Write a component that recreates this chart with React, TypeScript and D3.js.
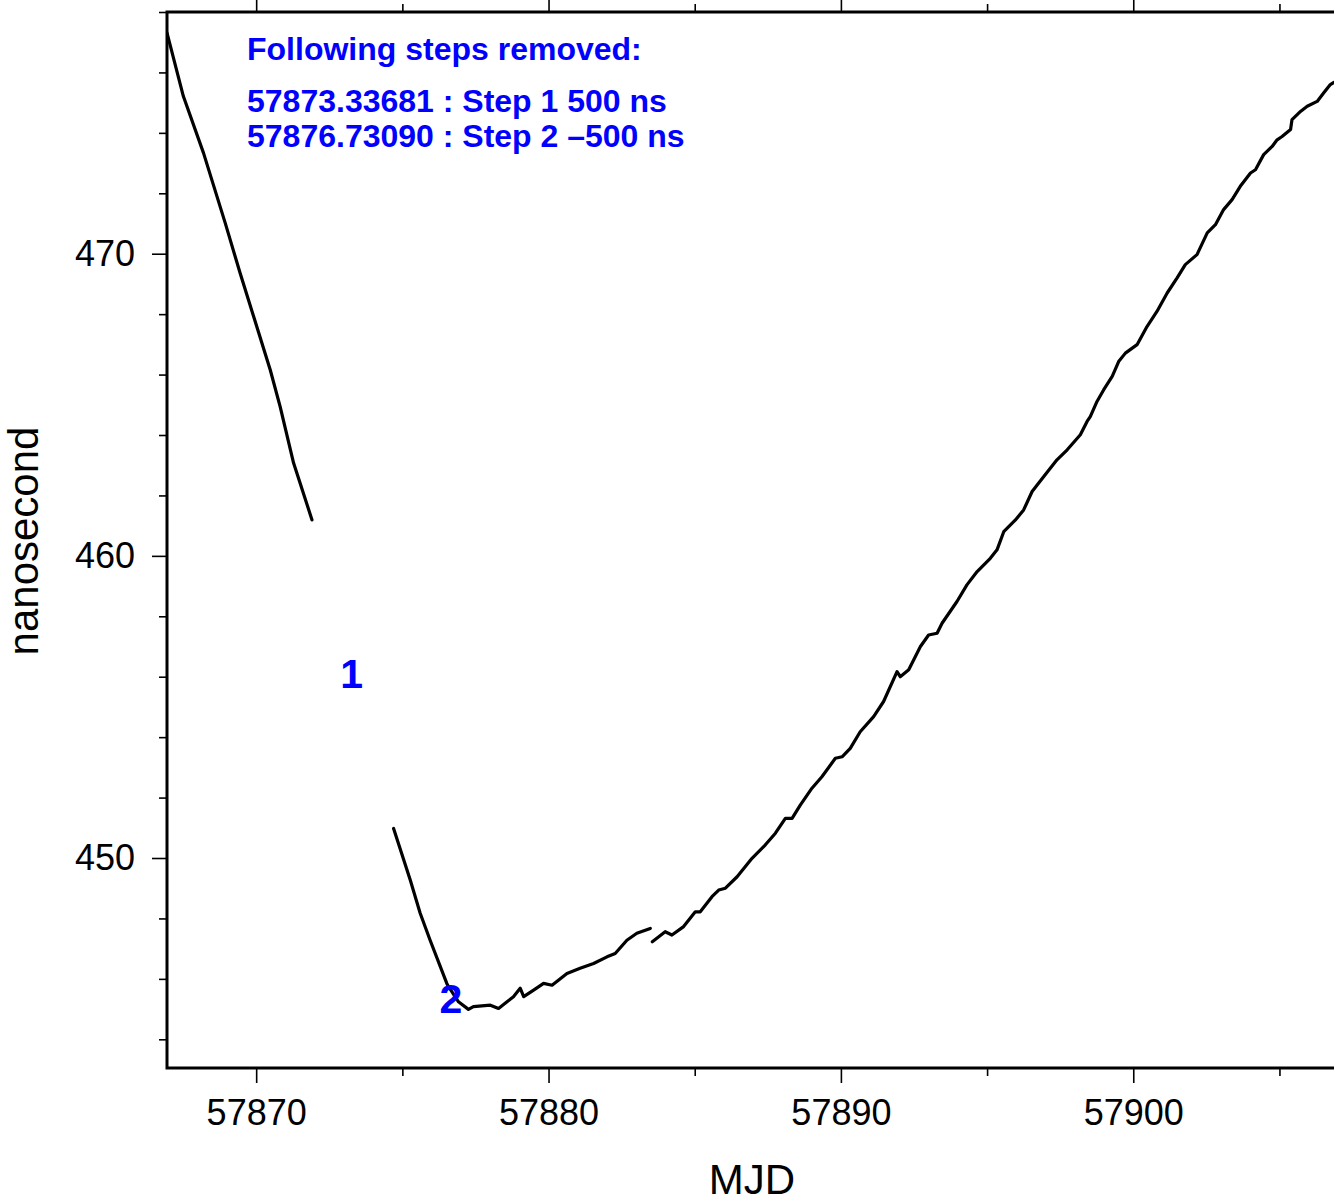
import React, { useEffect, useRef } from "react";
import * as d3 from "d3";

type Pt = [number, number];

// MJD, nanosecond
const segmentBeforeStep1: Pt[] = [
  [57866.95, 477.31], [57867.51, 475.21], [57868.2, 473.33], [57868.94, 471.02],
  [57869.45, 469.36], [57870.02, 467.59], [57870.48, 466.16], [57870.82, 464.94],
  [57871.28, 463.07], [57871.91, 461.19],
];

const segmentAroundStep2: Pt[] = [
  [57874.7, 450.98], [57875.27, 449.27], [57875.61, 448.17], [57875.95, 447.28],
  [57876.52, 445.85], [57876.58, 445.74], [57876.92, 445.24], [57877.26, 444.99],
  [57877.43, 445.08], [57878.01, 445.13], [57878.29, 445.02], [57878.58, 445.24],
  [57878.8, 445.41], [57879.03, 445.69], [57879.15, 445.41], [57879.49, 445.63],
  [57879.83, 445.85], [57880.12, 445.79], [57880.63, 446.18], [57881.08, 446.35],
  [57881.54, 446.51], [57882.0, 446.73], [57882.28, 446.84], [57882.68, 447.28],
  [57883.02, 447.51], [57883.48, 447.67],
];

const segmentAfter: Pt[] = [
  [57883.55, 447.23], [57883.99, 447.56], [57884.22, 447.45], [57884.62, 447.73],
  [57885.02, 448.22], [57885.19, 448.22], [57885.59, 448.72], [57885.82, 448.94],
  [57886.05, 449.0], [57886.45, 449.38], [57886.96, 449.99], [57887.41, 450.43],
  [57887.76, 450.82], [57888.1, 451.31], [57888.33, 451.31], [57888.61, 451.75],
  [57889.01, 452.31], [57889.35, 452.69], [57889.81, 453.3], [57890.04, 453.35],
  [57890.32, 453.63], [57890.66, 454.18], [57891.12, 454.68], [57891.46, 455.18],
  [57891.92, 456.17], [57892.03, 456.0], [57892.32, 456.23], [57892.72, 457.0],
  [57893.0, 457.38], [57893.29, 457.44], [57893.46, 457.77], [57893.97, 458.49],
  [57894.31, 459.04], [57894.66, 459.48], [57895.11, 459.92], [57895.34, 460.2],
  [57895.57, 460.8], [57895.97, 461.19], [57896.25, 461.52], [57896.54, 462.13],
  [57896.94, 462.63], [57897.39, 463.18], [57897.74, 463.51], [57898.19, 464.01],
  [57898.42, 464.45], [57898.53, 464.61], [57898.76, 465.11], [57898.99, 465.5],
  [57899.28, 465.94], [57899.5, 466.43], [57899.73, 466.71], [57900.13, 466.99],
  [57900.47, 467.59], [57900.81, 468.09], [57901.16, 468.7], [57901.5, 469.2],
  [57901.78, 469.64], [57902.18, 469.97], [57902.53, 470.69], [57902.81, 470.96],
  [57903.09, 471.46], [57903.38, 471.79], [57903.66, 472.23], [57904.01, 472.67],
  [57904.18, 472.78], [57904.46, 473.28], [57904.75, 473.55], [57904.92, 473.77],
  [57905.09, 473.88], [57905.38, 474.11], [57905.43, 474.44], [57905.72, 474.71],
  [57905.95, 474.88], [57906.29, 475.04], [57906.51, 475.32], [57906.74, 475.6],
  [57906.86, 475.67],
];

const stepMjd = [57873.33681, 57876.7309];
const stepNames = ["1", "2"];
const stepLabelNs = [455.63, 444.87];

const noteLines = [
  "Following steps removed:",
  "57873.33681 : Step 1 500 ns",
  "57876.73090 : Step 2 \u2013500 ns",
];

const xMajorTicks = [57870, 57880, 57890, 57900];
const xMinorTicks = [57875, 57885, 57895, 57905];
const yMajorTicks = [450, 460, 470];
const yMinorTicks = [444, 446, 448, 452, 454, 456, 458, 462, 464, 466, 468, 472, 474, 476, 478];

const FONT = "'Liberation Sans', Arial, Helvetica, sans-serif";

const App = () => {
  const svgRef = useRef<SVGSVGElement>(null);

  useEffect(() => {
    const width = 1334;
    const height = 1199;
    const left = 167;
    const top = 12;
    const bottom = 1068;
    const right = 1335;

    const svg = d3.select(svgRef.current).attr("width", width).attr("height", height);
    svg.selectAll("*").remove();

    const x = d3.scaleLinear().domain([57866.95, 57906.9]).range([left, right]);
    const y = d3.scaleLinear().domain([443.05, 478.0]).range([bottom, top]);

    svg
      .append("defs")
      .append("clipPath")
      .attr("id", "plot-clip")
      .append("rect")
      .attr("x", left)
      .attr("y", top)
      .attr("width", right - left)
      .attr("height", bottom - top);

    // axes (major + minor ticks)
    const styleAxis = (g: d3.Selection<SVGGElement, unknown, null, undefined>) => {
      g.select(".domain").remove();
      g.selectAll("line").attr("stroke", "#000").attr("stroke-width", 1.6);
      g.selectAll("text")
        .attr("font-family", FONT)
        .attr("font-size", 36)
        .attr("fill", "#000");
    };

    svg
      .append("g")
      .attr("transform", `translate(0, ${bottom})`)
      .call(d3.axisBottom(x).tickValues(xMajorTicks).tickSize(15).tickPadding(16).tickFormat(d3.format("d")))
      .call(styleAxis);
    svg
      .append("g")
      .attr("transform", `translate(0, ${bottom})`)
      .call(d3.axisBottom(x).tickValues(xMinorTicks).tickSize(8).tickFormat(() => ""))
      .call(styleAxis);
    svg
      .append("g")
      .attr("transform", `translate(0, ${top})`)
      .call(d3.axisTop(x).tickValues(xMajorTicks).tickSize(15).tickFormat(() => ""))
      .call(styleAxis);
    svg
      .append("g")
      .attr("transform", `translate(0, ${top})`)
      .call(d3.axisTop(x).tickValues(xMinorTicks).tickSize(8).tickFormat(() => ""))
      .call(styleAxis);
    svg
      .append("g")
      .attr("transform", `translate(${left}, 0)`)
      .call(d3.axisLeft(y).tickValues(yMajorTicks).tickSize(15).tickPadding(17).tickFormat(d3.format("d")))
      .call(styleAxis);
    svg
      .append("g")
      .attr("transform", `translate(${left}, 0)`)
      .call(d3.axisLeft(y).tickValues(yMinorTicks).tickSize(8).tickFormat(() => ""))
      .call(styleAxis);

    // frame
    svg
      .append("path")
      .attr("d", `M${right},${top}H${left}V${bottom}H${right}`)
      .attr("fill", "none")
      .attr("stroke", "#000")
      .attr("stroke-width", 3);

    // axis titles
    svg
      .append("text")
      .attr("transform", "rotate(-90)")
      .attr("x", -541)
      .attr("y", 38)
      .attr("text-anchor", "middle")
      .attr("font-family", FONT)
      .attr("font-size", 42)
      .text("nanosecond");
    svg
      .append("text")
      .attr("x", 752)
      .attr("y", 1194)
      .attr("text-anchor", "middle")
      .attr("font-family", FONT)
      .attr("font-size", 42)
      .text("MJD");

    // data
    const line = d3
      .line<Pt>()
      .x((d) => x(d[0]))
      .y((d) => y(d[1]))
      .curve(d3.curveLinear);

    const plot = svg.append("g").attr("clip-path", "url(#plot-clip)");
    [segmentBeforeStep1, segmentAroundStep2, segmentAfter].forEach((seg) => {
      plot
        .append("path")
        .datum(seg)
        .attr("fill", "none")
        .attr("stroke", "#000")
        .attr("stroke-width", 3.2)
        .attr("stroke-linejoin", "round")
        .attr("stroke-linecap", "round")
        .attr("d", line);
    });

    // step markers
    stepMjd.forEach((m, i) => {
      svg
        .append("text")
        .attr("x", x(m) - 2)
        .attr("y", y(stepLabelNs[i]))
        .attr("text-anchor", "middle")
        .attr("font-family", FONT)
        .attr("font-weight", "bold")
        .attr("font-size", 41)
        .attr("fill", "#0000ff")
        .text(stepNames[i]);
    });

    // note
    const noteY = [60, 112, 147];
    noteLines.forEach((t, i) => {
      svg
        .append("text")
        .attr("x", 247)
        .attr("y", noteY[i])
        .attr("font-family", FONT)
        .attr("font-weight", "bold")
        .attr("font-size", 32)
        .attr("fill", "#0000ff")
        .text(t);
    });
  }, []);

  return (
    <div style={{ position: "absolute", left: 0, top: 0, width: 1334, height: 1199, background: "#fff" }}>
      <svg ref={svgRef} style={{ display: "block" }}></svg>
    </div>
  );
};

export default App;
